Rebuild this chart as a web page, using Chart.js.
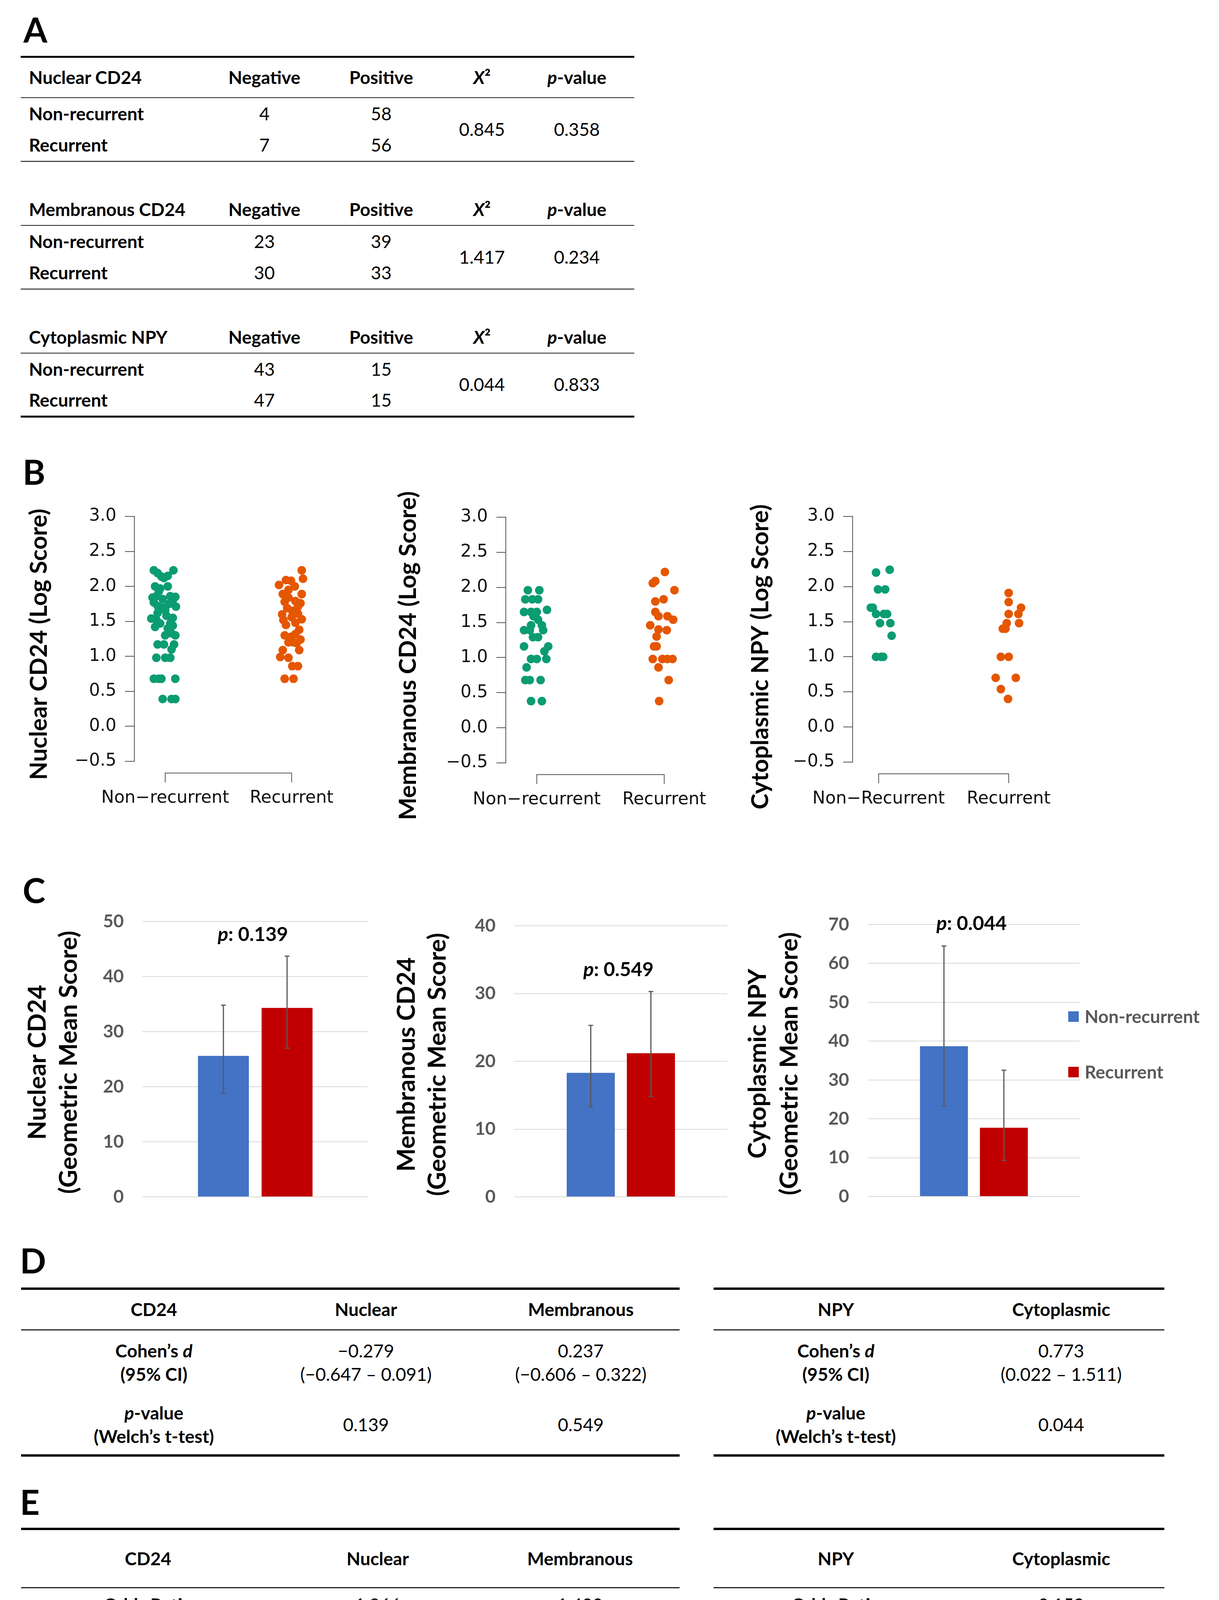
<!DOCTYPE html>
<html>
<head>
<meta charset="utf-8">
<script src="https://cdn.jsdelivr.net/npm/chart.js@4.4.1/dist/chart.umd.min.js"></script>
<style>
  body { margin: 0; background: #fff; }
  #page { position: relative; width: 3121px; height: 4681px; font-family: Lato, "Open Sans", sans-serif; color: #000; }
  .panel { position: absolute; font-weight: bold; font-size: 88px; line-height: 88px; }
  canvas { position: absolute; }
  table.t { position: absolute; border-collapse: collapse; table-layout: fixed; font-size: 46px; }
  table.t td { padding: 0; text-align: center; vertical-align: middle; line-height: 60px; }
  table.t td.b { font-weight: bold; }
</style>
</head>
<body>
<div id="page">
  <div class="panel" style="left:60px;top:31px">A</div>
  <div class="panel" style="left:58px;top:1163px">B</div>
  <div class="panel" style="left:58px;top:2234px">C</div>
  <div class="panel" style="left:51px;top:3182px">D</div>
  <div class="panel" style="left:51px;top:3800px">E</div>

  <table class="t" id="tabA" style="left:53px;top:143px;width:1571px"></table>

  <canvas id="bNuc"></canvas>
  <canvas id="bMem"></canvas>
  <canvas id="bNpy"></canvas>

  <canvas id="cNuc"></canvas>
  <canvas id="cMem"></canvas>
  <canvas id="cNpy"></canvas>

  <table class="t" id="tabDL" style="left:54px;top:3296px;width:1686px"></table>
  <table class="t" id="tabDR" style="left:1827px;top:3296px;width:1154px"></table>
  <table class="t" id="tabEL" style="left:54px;top:3911px;width:1686px"></table>
  <table class="t" id="tabER" style="left:1827px;top:3911px;width:1154px"></table>
</div>

<script>
// ---- panel A: chi-square tables ----
const tabAMarkers = ['Nuclear CD24', 'Membranous CD24', 'Cytoplasmic NPY'];
const tabANeg = [[4, 7], [23, 30], [43, 47]];
const tabAPos = [[58, 56], [39, 33], [15, 15]];
const tabAChi = ['0.845', '1.417', '0.044'];
const tabAP = ['0.358', '0.234', '0.833'];

// ---- panel B: log scores, with horizontal jitter (category units) ----
const groupNames = ['Non\u2212recurrent', 'Recurrent'];
const groupNamesNpy = ['Non\u2212Recurrent', 'Recurrent'];

const nucNonY = [2.23, 2.19, 2.14, 2.23, 2.15, 2.12, 2.00, 1.97, 2.00, 1.93, 1.84, 1.86, 1.82, 1.86, 1.85, 1.80,
  1.77, 1.72, 1.70, 1.66, 1.75, 1.71, 1.58, 1.62, 1.54, 1.52, 1.47, 1.55, 1.47, 1.42, 1.40, 1.44,
  1.30, 1.30, 1.33, 1.17, 1.17, 1.17, 1.10, 0.98, 0.98, 0.98, 0.68, 0.68, 0.68, 0.68, 0.39, 0.39, 0.39];
const nucNonJit = [-0.09, -0.06, -0.03, 0.065, 0.02, -0.01, -0.08, -0.04, 0.02, -0.05, -0.10, -0.07, -0.02, 0.04, 0.08, 0.06,
  -0.09, -0.06, -0.02, 0.00, 0.03, 0.085, 0.01, -0.06, -0.11, -0.07, -0.04, 0.06, 0.04, -0.08, 0.02, 0.06,
  0.00, 0.08, 0.05, -0.06, -0.01, 0.07, 0.05, -0.07, 0.00, 0.04, -0.09, -0.05, -0.03, 0.08, -0.02, 0.05, 0.08];
const nucRecY = [2.23, 2.11, 2.02, 2.09, 2.08, 2.00, 1.95, 1.89, 1.89, 1.84, 1.79, 1.78, 1.76, 1.71, 1.69, 1.65,
  1.61, 1.60, 1.52, 1.53, 1.56, 1.48, 1.45, 1.38, 1.30, 1.28, 1.32, 1.24, 1.20, 1.20, 1.19,
  1.09, 1.09, 0.99, 0.98, 0.86, 0.86, 0.68, 0.68];
const nucRecJit = [0.08, 0.09, -0.10, -0.045, -0.005, 0.025, -0.025, -0.07, 0.08, -0.025, 0.03, -0.055, 0.07, 0.05, -0.035, 0.005,
  0.05, -0.075, -0.065, 0.08, 0.00, 0.03, -0.045, 0.06, -0.055, -0.005, 0.03, 0.07, 0.015, -0.025, 0.04,
  -0.07, 0.06, -0.09, -0.025, 0.005, 0.05, -0.055, 0.015];

const memNonY = [1.96, 1.96, 1.83, 1.83, 1.83, 1.65, 1.65, 1.65, 1.68, 1.59, 1.54, 1.46, 1.46, 1.39, 1.39, 1.39,
  1.29, 1.29, 1.16, 1.16, 1.09, 0.98, 0.98, 0.98, 0.86, 0.68, 0.68, 0.68, 0.38, 0.38];
const memNonJit = [-0.07, 0.02, -0.09, -0.035, 0.01, -0.10, -0.045, 0.00, 0.08, -0.025, 0.01, -0.045, 0.04, -0.10, -0.055, 0.05,
  -0.03, 0.01, -0.10, 0.09, 0.06, -0.045, 0.00, 0.075, -0.08, -0.09, -0.055, 0.03, -0.045, 0.04];
const memRecY = [2.22, 2.09, 2.06, 1.96, 1.80, 1.83, 1.65, 1.59, 1.59, 1.54, 1.46, 1.40, 1.39, 1.30,
  1.16, 1.16, 0.98, 0.98, 0.98, 0.98, 0.86, 0.68, 0.38];
const memRecJit = [0.005, -0.07, -0.09, 0.08, -0.07, -0.005, -0.07, -0.045, 0.025, 0.07, -0.11, -0.045, 0.02, -0.06,
  -0.08, -0.06, -0.09, -0.015, 0.025, 0.065, -0.045, 0.035, -0.04];

const npyNonY = [2.20, 2.24, 1.96, 1.96, 1.70, 1.70, 1.61, 1.61, 1.61, 1.48, 1.48, 1.30, 1.00, 1.00, 1.00];
const npyNonJit = [-0.02, 0.085, -0.005, 0.05, -0.06, -0.045, -0.02, 0.04, 0.065, 0.01, 0.09, 0.10, -0.02, 0.02, 0.035];
const npyRecY = [1.91, 1.78, 1.70, 1.61, 1.61, 1.48, 1.48, 1.40, 1.40, 1.00, 1.00, 0.70, 0.70, 0.54, 0.40];
const npyRecJit = [0.00, 0.00, 0.095, 0.00, 0.075, -0.015, 0.08, -0.045, -0.025, -0.06, 0.00, -0.10, 0.055, -0.06, -0.005];

// ---- panel C: geometric mean scores with 95% CI ----
const seriesNames = ['Non-recurrent', 'Recurrent'];
const nucMean = [25.6, 34.3], nucLow = [18.8, 27.0], nucHigh = [34.8, 43.7];
const memMean = [18.3, 21.2], memLow = [13.3, 14.8], memHigh = [25.3, 30.3];
const npyMean = [38.7, 17.7], npyLow = [23.3, 9.3], npyHigh = [64.5, 32.5];
const pValues = ['0.139', '0.549', '0.044'];

// ---- panels D and E ----
const cohenD = ['\u22120.279', '0.237', '0.773'];
const cohenCI = ['(\u22120.647 \u2013 0.091)', '(\u22120.606 \u2013 0.322)', '(0.022 \u2013 1.511)'];
const welchP = ['0.139', '0.549', '0.044'];
const oddsRatio = ['1.866', '1.400', '0.159'];
const oddsCI = ['(0.813 \u2013 4.280)', '(0.474 \u2013 4.132)', '(0.024 \u2013 1.055)'];
const waldP = ['0.141', '0.543', '0.057'];
const sensitivity = ['0.589', '0.182', '0.533'];
const specificity = ['0.517', '0.872', '0.733'];
const overallCorrect = ['55.3', '55.6', '63.3'];

const GREEN = '#0b9c72', ORANGE = '#e55600', BLUE = '#4472c4', RED = '#c00000';

// ---------------- tables ----------------
function buildTableA() {
  let html = '<colgroup><col style="width:487px"><col style="width:274px"><col style="width:324px">' +
    '<col style="width:192px"><col style="width:294px"></colgroup>';
  tabAMarkers.forEach((m, k) => {
    if (k > 0) html += '<tr style="height:84px"><td colspan="5"></td></tr>';
    const top = k === 0 ? 'border-top:5px solid #000;' : '';
    const head = [m, 'Negative', 'Positive', '<i>X</i>\u00b2', '<i>p</i>-value'];
    html += `<tr style="height:${k === 0 ? 104 : 80}px">` + head.map((c, j) =>
      `<td class="b" style="${top}border-bottom:2px solid #222;${j === 0 ? 'text-align:left;padding-left:21px' : ''}">${c}</td>`).join('') + '</tr>';
    const bot = `border-bottom:${k === tabAMarkers.length - 1 ? 5 : 2}px solid #000;`;
    html += '<tr style="height:81px">' +
      '<td class="b" style="text-align:left;padding-left:21px">Non-recurrent</td>' +
      `<td>${tabANeg[k][0]}</td><td>${tabAPos[k][0]}</td>` +
      `<td rowspan="2" style="${bot}">${tabAChi[k]}</td><td rowspan="2" style="${bot}">${tabAP[k]}</td></tr>`;
    html += '<tr style="height:82px">' +
      `<td class="b" style="text-align:left;padding-left:21px;${bot}">Recurrent</td>` +
      `<td style="${bot}">${tabANeg[k][1]}</td><td style="${bot}">${tabAPos[k][1]}</td></tr>`;
  });
  document.getElementById('tabA').innerHTML = html;
}

function buildStatTable(id, widths, pads, header, headH, rows, rowH) {
  let html = '<colgroup>' + widths.map(w => `<col style="width:${w}px">`).join('') + '</colgroup>';
  html += `<tr style="height:${headH}px">` + header.map((h, j) =>
    `<td class="b" style="border-top:6px solid #000;border-bottom:3px solid #222;padding-left:${pads[j]}px">${h}</td>`).join('') + '</tr>';
  rows.forEach((r, i) => {
    const bot = i === rows.length - 1 ? 'border-bottom:6px solid #000;' : '';
    html += `<tr style="height:${rowH[i]}px">` + r.map((c, j) =>
      `<td class="${j === 0 ? 'b' : ''}" style="${bot}padding-left:${pads[j]}px">${c}</td>`).join('') + '</tr>';
  });
  document.getElementById(id).innerHTML = html;
}

function buildTablesDE() {
  const cohenLab = 'Cohen\u2019s <i>d</i><br>(95% CI)';
  const welchLab = '<i>p</i>-value<br>(Welch\u2019s t-test)';
  buildStatTable('tabDL', [680, 406, 600], [0, 0, 94], ['CD24', 'Nuclear', 'Membranous'], 105, [
    [cohenLab, cohenD[0] + '<br>' + cohenCI[0], cohenD[1] + '<br>' + cohenCI[1]],
    [welchLab, welchP[0], welchP[1]]
  ], [166, 156]);
  buildStatTable('tabDR', [626, 528], [0, 0], ['NPY', 'Cytoplasmic'], 105, [
    [cohenLab, cohenD[2] + '<br>' + cohenCI[2]],
    [welchLab, welchP[2]]
  ], [166, 156]);

  const eRows = idx => [
    ['Odds Ratio<br>(95% CI)'].concat(idx.map(i => oddsRatio[i] + '<br>' + oddsCI[i])),
    ['<i>p</i>-value<br>(Wald test)'].concat(idx.map(i => waldP[i])),
    ['Sensitivity'].concat(idx.map(i => sensitivity[i])),
    ['Specificity'].concat(idx.map(i => specificity[i])),
    ['Overall % Correct<br>Predictions'].concat(idx.map(i => overallCorrect[i]))
  ];
  const eH = [146, 136, 84, 82, 132];
  buildStatTable('tabEL', [650, 526, 510], [0, 0, 0], ['CD24', 'Nuclear', 'Membranous'], 150, eRows([0, 1]), eH);
  buildStatTable('tabER', [626, 528], [0, 0], ['NPY', 'Cytoplasmic'], 150, eRows([2]), eH);
}

// ---------------- shared plugins ----------------
// rotated y-axis title, drawn without Chart.js' maxWidth squeeze
const sideTitlePlugin = {
  id: 'sideTitle',
  afterDraw(chart, args, opts) {
    const { ctx, chartArea } = chart;
    const cy = (chartArea.top + chartArea.bottom) / 2 + opts.shift;
    ctx.save();
    ctx.font = `bold ${opts.size}px Lato`;
    ctx.fillStyle = '#000';
    ctx.textAlign = 'center';
    ctx.textBaseline = 'middle';
    opts.lines.forEach((t, i) => {
      ctx.save();
      ctx.translate(opts.x[i], cy);
      ctx.rotate(-Math.PI / 2);
      ctx.fillText(t, 0, 0);
      ctx.restore();
    });
    ctx.restore();
  }
};

function place(id, left, top, w, h) {
  const c = document.getElementById(id);
  c.width = w; c.height = h;
  c.style.left = left + 'px'; c.style.top = top + 'px';
  return c;
}

// ---------------- panel B: strip charts ----------------
const bracketPlugin = {
  id: 'bracket',
  afterDraw(chart) {
    const { ctx, chartArea, scales: { x } } = chart;
    const y0 = chartArea.bottom + 30;
    const x1 = x.getPixelForValue(1), x2 = x.getPixelForValue(2);
    ctx.save();
    ctx.strokeStyle = '#555';
    ctx.lineWidth = 2;
    ctx.beginPath();
    ctx.moveTo(x1, y0 + 24); ctx.lineTo(x1, y0); ctx.lineTo(x2, y0); ctx.lineTo(x2, y0 + 24);
    ctx.stroke();
    ctx.restore();
  }
};

function stripChart(id, box, title, cats, ys0, jit0, ys1, jit1) {
  const padTop = 160, xAxisH = 120, padBottom = 80;
  const c = place(id, box.left, box.areaTop - padTop, box.w, box.areaBottom - box.areaTop + padTop + xAxisH + padBottom);
  const pts = (ys, jit, base) => ys.map((v, i) => ({ x: base + jit[i], y: v }));
  new Chart(c.getContext('2d'), {
    type: 'scatter',
    data: {
      datasets: [
        { data: pts(ys0, jit0, 1), backgroundColor: GREEN, pointRadius: 11, borderWidth: 0 },
        { data: pts(ys1, jit1, 2), backgroundColor: ORANGE, pointRadius: 11, borderWidth: 0 }
      ]
    },
    options: {
      responsive: false, animation: false, devicePixelRatio: 1,
      layout: { padding: { top: padTop, right: box.padRight, bottom: padBottom, left: 0 } },
      plugins: {
        legend: { display: false }, tooltip: { enabled: false },
        sideTitle: { lines: [title], x: [box.titleX], size: 61, shift: box.titleShift }
      },
      scales: {
        x: {
          type: 'linear', min: box.xmin, max: 2.35,
          afterBuildTicks: s => { s.ticks = [{ value: 1 }, { value: 2 }]; },
          ticks: { callback: v => cats[v - 1], font: { family: 'DejaVu Sans', size: 44 }, color: '#111', padding: 60, maxRotation: 0, autoSkip: false },
          grid: { display: false },
          border: { display: false },
          afterFit: s => { s.height = xAxisH; }
        },
        y: {
          min: -0.5, max: 3,
          ticks: { stepSize: 0.5, callback: v => v.toFixed(1).replace('-', '\u2212'), font: { family: 'DejaVu Sans', size: 44 }, color: '#111', padding: 22 },
          grid: { drawOnChartArea: false, tickLength: 24, color: '#555', lineWidth: 2 },
          border: { color: '#555', width: 2 },
          afterFit: s => { s.width = box.yW; }
        }
      }
    },
    plugins: [bracketPlugin, sideTitlePlugin]
  });
}

// ---------------- panel C: bar charts ----------------
const errorBarPlugin = {
  id: 'errorBars',
  afterDatasetsDraw(chart) {
    const { ctx, scales: { y } } = chart;
    ctx.save();
    ctx.strokeStyle = '#595959';
    ctx.lineWidth = 3;
    chart.data.datasets.forEach((ds, i) => {
      const bar = chart.getDatasetMeta(i).data[0];
      const yl = y.getPixelForValue(ds.errLow), yh = y.getPixelForValue(ds.errHigh);
      ctx.beginPath();
      ctx.moveTo(bar.x, yl); ctx.lineTo(bar.x, yh);
      ctx.moveTo(bar.x - 6, yl); ctx.lineTo(bar.x + 6, yl);
      ctx.moveTo(bar.x - 6, yh); ctx.lineTo(bar.x + 6, yh);
      ctx.stroke();
    });
    ctx.restore();
  }
};

const pLabelPlugin = {
  id: 'pLabel',
  afterDraw(chart, args, opts) {
    const { ctx, chartArea, scales: { y } } = chart;
    const cx = (chartArea.left + chartArea.right) / 2 - 6;
    const cy = y.getPixelForValue(opts.at);
    const rest = ': ' + opts.text;
    ctx.save();
    ctx.fillStyle = '#000';
    ctx.textBaseline = 'middle';
    ctx.font = 'italic bold 50px Lato';
    const wp = ctx.measureText('p').width;
    ctx.font = 'bold 50px Lato';
    const wr = ctx.measureText(rest).width;
    const x0 = cx - (wp + wr) / 2;
    ctx.font = 'italic bold 50px Lato';
    ctx.fillText('p', x0, cy);
    ctx.font = 'bold 50px Lato';
    ctx.fillText(rest, x0 + wp, cy);
    ctx.restore();
  }
};

const sideLegendPlugin = {
  id: 'sideLegend',
  afterDraw(chart, args, opts) {
    if (!opts.show) return;
    const { ctx, chartArea } = chart;
    ctx.save();
    ctx.font = 'bold 46px Lato';
    ctx.textBaseline = 'middle';
    chart.data.datasets.forEach((ds, i) => {
      const yc = chartArea.top + 235 + i * 142;
      const x0 = chartArea.right - 30;
      ctx.fillStyle = ds.backgroundColor;
      ctx.fillRect(x0, yc - 13, 27, 27);
      ctx.fillStyle = '#595959';
      ctx.fillText(ds.label, x0 + 42, yc + 2);
    });
    ctx.restore();
  }
};

function barChart(id, box, title, mean, low, high, yMax, pText, pAt, legend) {
  const pad = 80;
  const c = place(id, box.left, box.areaTop - pad, box.w, box.areaBottom - box.areaTop + 2 * pad);
  new Chart(c.getContext('2d'), {
    type: 'bar',
    data: {
      labels: [''],
      datasets: seriesNames.map((n, i) => ({
        label: n, data: [mean[i]], errLow: low[i], errHigh: high[i],
        backgroundColor: i === 0 ? BLUE : RED,
        categoryPercentage: 0.565, barPercentage: 0.8
      }))
    },
    options: {
      responsive: false, animation: false, devicePixelRatio: 1,
      layout: { padding: { top: pad, right: box.padRight, bottom: pad, left: 0 } },
      plugins: {
        legend: { display: false }, tooltip: { enabled: false },
        pLabel: { text: pText, at: pAt },
        sideLegend: { show: legend },
        sideTitle: { lines: title, x: box.titleX, size: 63, shift: 8 }
      },
      scales: {
        x: { display: false },
        y: {
          min: 0, max: yMax,
          ticks: { stepSize: 10, font: { family: 'Lato', weight: 'bold', size: 46 }, color: '#595959', padding: 48 },
          grid: { color: '#d9d9d9', lineWidth: 2, drawTicks: false },
          border: { display: false },
          afterFit: s => { s.width = box.yW; }
        }
      }
    },
    plugins: [errorBarPlugin, pLabelPlugin, sideLegendPlugin, sideTitlePlugin]
  });
}

buildTableA();
buildTablesDE();

stripChart('bNuc', { left: 40, areaTop: 1322, areaBottom: 1949, w: 880, yW: 304, xmin: 0.756, padRight: 28, titleX: 60, titleShift: 14 },
  'Nuclear CD24 (Log Score)', groupNames, nucNonY, nucNonJit, nucRecY, nucRecJit);
stripChart('bMem', { left: 984, areaTop: 1324, areaBottom: 1953, w: 890, yW: 311, xmin: 0.757, padRight: 28, titleX: 61, titleShift: 40 },
  'Membranous CD24 (Log Score)', groupNames, memNonY, memNonJit, memRecY, memRecJit);
stripChart('bNpy', { left: 1885, areaTop: 1322, areaBottom: 1951, w: 871, yW: 298, xmin: 0.80, padRight: 28, titleX: 62, titleShift: 45 },
  'Cytoplasmic NPY (Log Score)', groupNamesNpy, npyNonY, npyNonJit, npyRecY, npyRecJit);

barChart('cNuc', { left: 40, areaTop: 2359, areaBottom: 3064, w: 912, yW: 325, padRight: 10, titleX: [57, 137] },
  ['Nuclear CD24', '(Geometric Mean Score)'], nucMean, nucLow, nucHigh, 50, pValues[0], 47.6, false);
barChart('cMem', { left: 983, areaTop: 2370, areaBottom: 3064, w: 889, yW: 334, padRight: 10, titleX: [59, 138] },
  ['Membranous CD24', '(Geometric Mean Score)'], memMean, memLow, memHigh, 40, pValues[1], 33.5, false);
barChart('cNpy', { left: 1893, areaTop: 2367, areaBottom: 3063, w: 1222, yW: 329, padRight: 350, titleX: [48, 129] },
  ['Cytoplasmic NPY', '(Geometric Mean Score)'], npyMean, npyLow, npyHigh, 70, pValues[2], 70.2, true);
</script>
</body>
</html>
